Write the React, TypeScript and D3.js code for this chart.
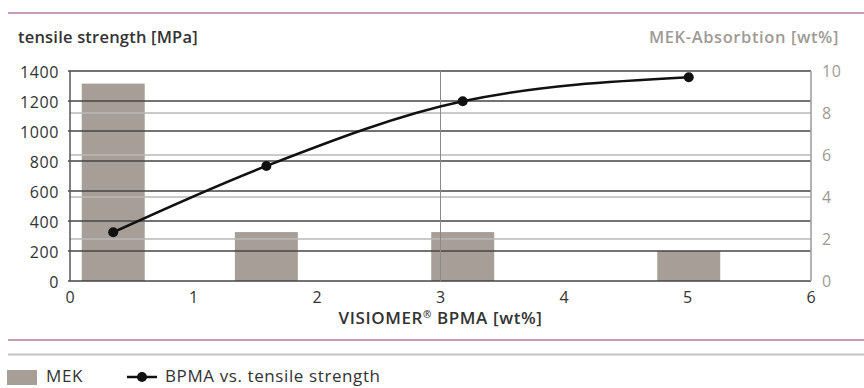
import React from "react";
import * as d3 from "d3";

const bpma = [0.35, 1.59, 3.18, 5.01];
const mekAbsorption = [9.4, 2.33, 2.33, 1.43];
const tensileStrength = [325, 767, 1198, 1358];
const xTicks = [0, 1, 2, 3, 4, 5, 6];
const leftTicks = [0, 200, 400, 600, 800, 1000, 1200, 1400];
const rightTicks = [0, 2, 4, 6, 8, 10];
const verticalMarks = [3];

const W = 864;
const H = 388;
const FONT = "'Open Sans', 'Noto Sans', sans-serif";

export default function App() {
  const x = d3.scaleLinear().domain([0, 6]).range([70, 811]);
  const yL = d3.scaleLinear().domain([0, 1400]).range([281, 71]);
  const yR = d3.scaleLinear().domain([0, 10]).range([281, 71]);
  const barW = x(0.51) - x(0);

  const pts: [number, number][] = bpma.map((v, i) => [x(v), yL(tensileStrength[i])]);
  const line = d3.line().curve(d3.curveMonotoneX)(pts) || "";

  return (
    <svg
      width={W}
      height={H}
      style={{ position: "absolute", left: 0, top: 0, background: "#fff" }}
      fontFamily={FONT}
    >
      <rect x={0} y={0} width={W} height={H} fill="#fff" />
      {/* header line */}
      <line x1={8} x2={W} y1={13} y2={13} stroke="#b678a8" strokeWidth={1.6} />
      <text x={18} y={43} fontSize={16.5} fontWeight={600} fill="#333" letterSpacing={0.2}>
        tensile strength [MPa]
      </text>
      <text x={839} y={43} fontSize={16.5} fontWeight={600} fill="#a09a96" textAnchor="end" letterSpacing={0.6}>
        MEK-Absorbtion [wt%]
      </text>

      {/* bars */}
      {bpma.map((v, i) => (
        <rect
          key={"b" + i}
          x={x(v) - barW / 2}
          y={yR(mekAbsorption[i])}
          width={barW}
          height={yR(0) - yR(mekAbsorption[i])}
          fill="#a79f97"
        />
      ))}

      {/* right-axis gridlines (light) */}
      {rightTicks.slice(1, -1).map((t) => (
        <line key={"rg" + t} x1={x(0)} x2={x(6)} y1={yR(t)} y2={yR(t)} stroke="#b8b8b8" strokeWidth={1.3} />
      ))}
      {/* left-axis gridlines (dark) */}
      {leftTicks.map((t) => (
        <line
          key={"lg" + t}
          x1={x(0) - 2}
          x2={x(6)}
          y1={yL(t)}
          y2={yL(t)}
          stroke="#444"
          strokeWidth={1.5}
        />
      ))}
      {/* vertical marker */}
      {verticalMarks.map((v) => (
        <line key={"v" + v} x1={x(v)} x2={x(v)} y1={yL(1400)} y2={yL(0)} stroke="#8a8a8a" strokeWidth={1} />
      ))}
      {/* axes */}
      <line x1={x(0)} x2={x(0)} y1={yL(1400)} y2={yL(0)} stroke="#555" strokeWidth={1.5} />
      <line x1={x(6)} x2={x(6)} y1={yL(1400)} y2={yL(0)} stroke="#9a9a9a" strokeWidth={1.5} />

      {/* line series */}
      <path d={line} fill="none" stroke="#111" strokeWidth={2.5} />
      {pts.map((p, i) => (
        <circle key={"c" + i} cx={p[0]} cy={p[1]} r={5} fill="#111" />
      ))}

      {/* left tick labels */}
      {leftTicks.map((t) => (
        <text key={"lt" + t} x={59} y={yL(t) + 7} fontSize={16} fill="#333" textAnchor="end" letterSpacing={0.6}>
          {t}
        </text>
      ))}
      {/* right tick labels */}
      {rightTicks.map((t) => (
        <text key={"rt" + t} x={822} y={yR(t) + 6} fontSize={16} fill="#a09a96" textAnchor="start" letterSpacing={0.6}>
          {t}
        </text>
      ))}
      {/* x tick labels */}
      {xTicks.map((t) => (
        <text key={"xt" + t} x={x(t)} y={303} fontSize={16} fill="#333" textAnchor="middle">
          {t}
        </text>
      ))}
      <text x={x(3)} y={324} fontSize={17} fontWeight={600} fill="#333" textAnchor="middle" letterSpacing={0.6}>
        VISIOMER
        <tspan fontSize={10} dy={-6}>®</tspan>
        <tspan dy={6}> BPMA [wt%]</tspan>
      </text>

      {/* footer lines */}
      <line x1={8} x2={W} y1={340} y2={340} stroke="#b678a8" strokeWidth={1.6} />
      <line x1={8} x2={W} y1={354.5} y2={354.5} stroke="#c4c4c4" strokeWidth={2} />

      {/* legend */}
      <rect x={7} y={370} width={30} height={15} fill="#a79f97" />
      <text x={46} y={382} fontSize={17} fill="#333" letterSpacing={0.6}>
        MEK
      </text>
      <line x1={127} x2={157} y1={377} y2={377} stroke="#111" strokeWidth={2.5} />
      <circle cx={142} cy={377} r={5} fill="#111" />
      <text x={165} y={382} fontSize={17} fill="#333" letterSpacing={0.6}>
        BPMA vs. tensile strength
      </text>
    </svg>
  );
}
